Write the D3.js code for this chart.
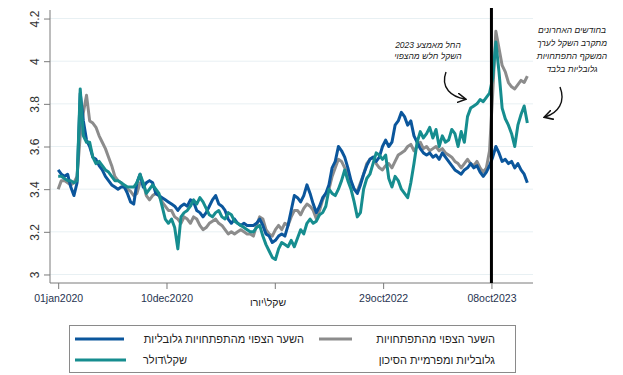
<!DOCTYPE html>
<html>
<head>
<meta charset="utf-8">
<script src="https://d3js.org/d3.v7.min.js"></script>
<style>
  body { margin: 0; background: #fff; }
  text { font-family: "Liberation Sans", Arial, sans-serif; }
</style>
</head>
<body>
<svg width="623" height="375"></svg>
<script>
// observations every 10 days starting 01jan2020
const startDate = new Date(2020, 0, 1);
const stepDays = 10;
const BS = String.fromCharCode(92); // backslash used in the labels

// השער הצפוי מהתפתחויות גלובליות (blue)
const globalRate = [
  3.49,3.47,3.46,3.47,3.41,3.37,3.43,3.85,3.72,3.63,
  3.60,3.55,3.54,3.51,3.49,3.46,3.44,3.42,3.41,3.40,
  3.41,3.41,3.38,3.34,3.33,3.43,3.47,3.41,3.43,3.44,
  3.43,3.38,3.37,3.36,3.35,3.34,3.33,3.32,3.30,3.32,
  3.33,3.32,3.35,3.34,3.30,3.29,3.27,3.29,3.32,3.35,
  3.37,3.33,3.32,3.30,3.26,3.24,3.26,3.24,3.23,3.24,
  3.23,3.23,3.23,3.24,3.26,3.23,3.19,3.18,3.15,3.16,
  3.18,3.19,3.18,3.23,3.30,3.37,3.36,3.34,3.37,3.42,
  3.38,3.33,3.29,3.32,3.36,3.38,3.42,3.50,3.53,3.60,
  3.58,3.55,3.50,3.44,3.40,3.38,3.42,3.47,3.51,3.54,
  3.55,3.53,3.55,3.60,3.63,3.60,3.62,3.70,3.72,3.76,
  3.74,3.70,3.72,3.65,3.62,3.59,3.57,3.56,3.57,3.55,
  3.56,3.54,3.57,3.55,3.53,3.51,3.49,3.48,3.47,3.49,
  3.50,3.52,3.50,3.51,3.48,3.46,3.48,3.51,3.55,3.60,
  3.57,3.53,3.54,3.52,3.53,3.50,3.52,3.49,3.47,3.43
];

// השער הצפוי מהתפתחויות גלובליות ומפרמיית הסיכון (gray)
const globalRiskRate = [
  3.40,3.44,3.44,3.43,3.42,3.43,3.46,3.65,3.76,3.84,
  3.72,3.71,3.69,3.65,3.62,3.59,3.55,3.51,3.46,3.44,
  3.43,3.41,3.40,3.39,3.37,3.38,3.43,3.43,3.37,3.35,
  3.37,3.38,3.37,3.34,3.32,3.30,3.30,3.27,3.26,3.24,
  3.27,3.26,3.24,3.27,3.26,3.23,3.21,3.22,3.24,3.25,
  3.26,3.24,3.23,3.21,3.19,3.20,3.19,3.20,3.21,3.20,
  3.19,3.19,3.18,3.23,3.27,3.26,3.21,3.19,3.18,3.21,
  3.23,3.21,3.24,3.23,3.27,3.30,3.30,3.28,3.31,3.33,
  3.32,3.30,3.26,3.30,3.35,3.38,3.40,3.46,3.50,3.54,
  3.53,3.50,3.47,3.43,3.40,3.39,3.43,3.47,3.52,3.54,
  3.55,3.52,3.50,3.49,3.51,3.52,3.50,3.53,3.56,3.57,
  3.58,3.60,3.61,3.58,3.60,3.62,3.59,3.60,3.58,3.59,
  3.60,3.58,3.59,3.57,3.56,3.55,3.53,3.52,3.50,3.52,
  3.54,3.52,3.51,3.53,3.50,3.48,3.50,3.58,3.85,4.14,
  4.06,3.98,3.95,3.90,3.88,3.87,3.89,3.91,3.90,3.93
];

// שקל/דולר (teal)
const ilsUsd = [
  3.46,3.46,3.45,3.44,3.44,3.43,3.44,3.87,3.65,3.62,
  3.62,3.55,3.52,3.53,3.51,3.49,3.48,3.46,3.44,3.44,
  3.43,3.42,3.41,3.41,3.41,3.43,3.47,3.43,3.38,3.40,
  3.42,3.40,3.38,3.32,3.26,3.24,3.26,3.22,3.12,3.27,
  3.29,3.30,3.32,3.35,3.33,3.36,3.34,3.31,3.28,3.27,
  3.29,3.30,3.27,3.26,3.29,3.28,3.25,3.24,3.23,3.22,
  3.21,3.20,3.20,3.22,3.23,3.18,3.14,3.11,3.08,3.07,
  3.12,3.15,3.14,3.13,3.16,3.13,3.17,3.21,3.19,3.24,
  3.26,3.24,3.25,3.28,3.29,3.32,3.40,3.38,3.37,3.40,
  3.44,3.49,3.44,3.40,3.34,3.27,3.29,3.40,3.45,3.47,
  3.52,3.57,3.56,3.54,3.56,3.45,3.41,3.46,3.44,3.40,
  3.38,3.36,3.43,3.52,3.62,3.67,3.64,3.66,3.69,3.64,
  3.68,3.60,3.65,3.62,3.63,3.68,3.66,3.60,3.67,3.62,
  3.74,3.78,3.79,3.80,3.82,3.81,3.83,3.85,3.92,4.09,
  3.95,3.78,3.73,3.70,3.66,3.60,3.70,3.75,3.79,3.71
];

const yTicks = [3, 3.2, 3.4, 3.6, 3.8, 4, 4.2];
const xTickDates = ["2020-01-01", "2020-12-10", "2021-11-19", "2022-10-29", "2023-10-08"];
const xTickLabels = ["01jan2020", "10dec2020", "", "29oct2022", "08oct2023"];
const eventDate = "2023-10-08";

const parseDate = d3.timeParse("%Y-%m-%d");
const dates = globalRate.map((_, i) => d3.timeDay.offset(startDate, i * stepDays));

const svg = d3.select("svg");

const x = d3.scaleTime()
  .domain([parseDate("2019-12-06"), parseDate("2024-02-17")])
  .range([50, 533]);
const y = d3.scaleLinear().domain([2.96, 4.24]).range([283, 10]);

// grid
svg.append("g")
  .selectAll("line")
  .data(yTicks)
  .join("line")
  .attr("x1", 50).attr("x2", 533)
  .attr("y1", d => y(d)).attr("y2", d => y(d))
  .attr("stroke", "#e8f0f3").attr("stroke-width", 1);

// y axis, labels turned on their side
const yAxis = svg.append("g")
  .attr("transform", "translate(50,0)")
  .call(d3.axisLeft(y).tickValues(yTicks).tickSize(6).tickFormat(d3.format("~g")));
yAxis.select(".domain").attr("stroke", "#7a7a7a").attr("d", "M0,10V283");
yAxis.selectAll(".tick line").attr("stroke", "#7a7a7a");
yAxis.selectAll(".tick text")
  .attr("x", 0).attr("y", -11).attr("dy", null)
  .attr("transform", "rotate(-90)")
  .attr("text-anchor", "middle")
  .attr("font-size", 12).attr("fill", "#333")
  .attr("font-family", "Liberation Sans, Arial, sans-serif");

// x axis
const xAxis = svg.append("g")
  .attr("transform", "translate(0,283)")
  .call(d3.axisBottom(x)
    .tickValues(xTickDates.map(parseDate))
    .tickSize(6)
    .tickFormat((d, i) => xTickLabels[i]));
xAxis.select(".domain").attr("stroke", "#7a7a7a").attr("d", "M50,0H533");
xAxis.selectAll(".tick line").attr("stroke", "#7a7a7a");
xAxis.selectAll(".tick text")
  .attr("font-size", 10.5).attr("fill", "#1f3350").attr("dy", "0.95em")
  .attr("font-family", "Liberation Sans, Arial, sans-serif");

svg.append("text")
  .attr("x", 268).attr("y", 306)
  .attr("text-anchor", "middle").attr("font-size", 10.5).attr("fill", "#222")
  .text("שקל" + BS + "יורו");

// lines
const line = d3.line()
  .x((d, i) => x(dates[i]))
  .y(d => y(d));

const series = [
  { values: globalRiskRate, color: "#8c8c8c" },
  { values: globalRate, color: "#0b569c" },
  { values: ilsUsd, color: "#168d8f" }
];

svg.append("g")
  .selectAll("path")
  .data(series)
  .join("path")
  .attr("fill", "none")
  .attr("stroke", d => d.color)
  .attr("stroke-width", 3)
  .attr("stroke-linejoin", "round")
  .attr("d", d => line(d.values));

// event line
svg.append("line")
  .attr("x1", x(parseDate(eventDate))).attr("x2", x(parseDate(eventDate)))
  .attr("y1", 8).attr("y2", 283)
  .attr("stroke", "#000").attr("stroke-width", 3);

// annotations
const note = svg.append("g")
  .attr("font-style", "italic").attr("font-size", 8.5).attr("fill", "#222")
  .attr("text-anchor", "middle");
note.selectAll("text.a")
  .data(["החל מאמצע 2023", "השקל חלש מהצפוי"])
  .join("text")
  .attr("class", "a")
  .attr("x", 428).attr("y", (d, i) => 48 + i * 11)
  .text(d => d);
note.selectAll("text.b")
  .data(["בחודשים האחרונים", "מתקרב השקל לערך", "המשקף התפתחויות", "גלובליות בלבד"])
  .join("text")
  .attr("class", "b")
  .attr("x", 572).attr("y", (d, i) => 33 + i * 13)
  .text(d => d);

svg.append("defs").append("marker")
  .attr("id", "ah").attr("viewBox", "0 0 10 10")
  .attr("refX", 8).attr("refY", 5)
  .attr("markerWidth", 7).attr("markerHeight", 7)
  .attr("orient", "auto-start-reverse")
  .append("path").attr("d", "M0,0 L9,5 L0,10").attr("fill", "none")
  .attr("stroke", "#111").attr("stroke-width", 1.6);

svg.append("path")
  .attr("d", "M446,72 C440,88 452,97 465,99")
  .attr("fill", "none").attr("stroke", "#111").attr("stroke-width", 1.4)
  .attr("marker-end", "url(#ah)");
svg.append("path")
  .attr("d", "M560,87 C566,102 558,113 545,117")
  .attr("fill", "none").attr("stroke", "#111").attr("stroke-width", 1.4)
  .attr("marker-end", "url(#ah)");

// legend
const legend = svg.append("g");
legend.append("rect")
  .attr("x", 69.5).attr("y", 325.5).attr("width", 446).attr("height", 47)
  .attr("fill", "#fff").attr("stroke", "#8a8a8a");

const legendItems = [
  { color: "#0b569c", x1: 75, x2: 124, ly: 339, tx: 304, lines: ["השער הצפוי מהתפתחויות גלובליות"] },
  { color: "#168d8f", x1: 75, x2: 126, ly: 360, tx: 187, lines: ["שקל" + BS + "דולר"] },
  { color: "#8c8c8c", x1: 319, x2: 352, ly: 339, tx: 495, lines: ["השער הצפוי מהתפתחויות", "גלובליות ומפרמיית הסיכון"] }
];
legendItems.forEach(it => {
  legend.append("line")
    .attr("x1", it.x1).attr("x2", it.x2).attr("y1", it.ly).attr("y2", it.ly)
    .attr("stroke", it.color).attr("stroke-width", 3);
  it.lines.forEach((t, i) => {
    legend.append("text")
      .attr("x", it.tx).attr("y", it.ly + 4 + i * 21)
      .attr("text-anchor", "end").attr("font-size", 11).attr("fill", "#222")
      .text(t);
  });
});
</script>
</body>
</html>
